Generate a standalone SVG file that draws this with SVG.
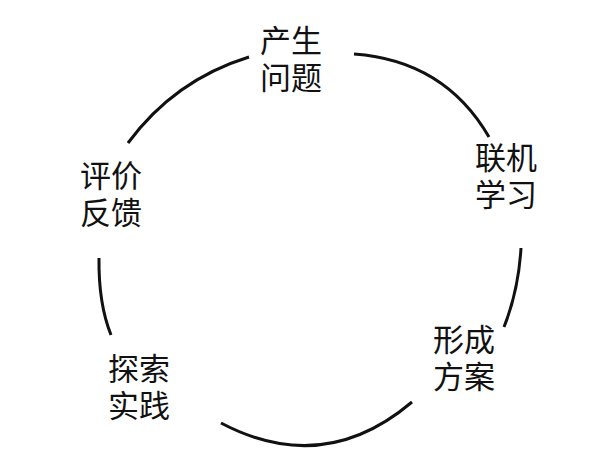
<svg xmlns="http://www.w3.org/2000/svg" width="600" height="457" viewBox="0 0 600 457">
<style>
.lbl{font-family:"Liberation Sans","Noto Sans CJK SC",sans-serif;font-size:31px;fill:#111}
.arc{fill:none;stroke:#111;stroke-width:3}
</style>
<rect width="600" height="457" fill="#fff"/>
<g id="connectors">
<path class="arc" d="M128,143 Q174.5,80 249,57"/>
<path class="arc" d="M354,54 Q444.5,60.5 489,137"/>
<path class="arc" d="M521,248 Q518.5,290.5 504,327"/>
<path class="arc" d="M99,258 Q98.4,303.5 111,335"/>
<path class="arc" d="M221,423 Q323.5,477 412,402"/>
</g>
<g id="node-problem"><text class="lbl" x="260" y="52">产生<tspan x="260" dy="37">问题</tspan></text></g>
<g id="node-learn"><text class="lbl" x="475" y="169">联机<tspan x="475" dy="37">学习</tspan></text></g>
<g id="node-plan"><text class="lbl" x="433" y="351">形成<tspan x="433" dy="37">方案</tspan></text></g>
<g id="node-practice"><text class="lbl" x="108" y="380">探索<tspan x="108" dy="37">实践</tspan></text></g>
<g id="node-feedback"><text class="lbl" x="80" y="187">评价<tspan x="80" dy="37">反馈</tspan></text></g>
</svg>
